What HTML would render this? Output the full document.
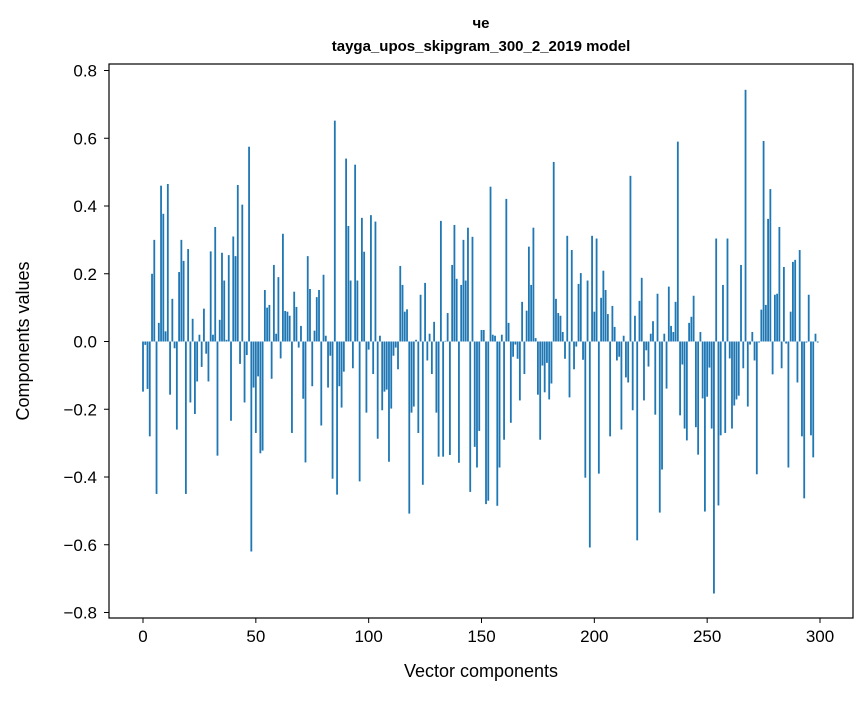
<!DOCTYPE html>
<html><head><meta charset="utf-8"><style>
body{margin:0;background:#fff;}
svg text{font-family:"Liberation Sans","DejaVu Sans",sans-serif;fill:#000;}
</style></head><body>
<svg id="chart" width="867" height="696" xmlns="http://www.w3.org/2000/svg">
<rect width="867" height="696" fill="#fff"/>
<text x="481" y="28" text-anchor="middle" font-size="15" font-weight="bold">че</text>
<text x="481" y="51" text-anchor="middle" font-size="15" font-weight="bold">tayga_upos_skipgram_300_2_2019 model</text>
<g id="bars"></g>
<g id="xticks"></g>
<g id="yticks"></g>
<rect x="109" y="64" width="744" height="554" fill="none" stroke="#000" stroke-width="1.2"/>
<text x="481" y="677" text-anchor="middle" font-size="18">Vector components</text>
<text x="29" y="341" text-anchor="middle" font-size="18" transform="rotate(-90 29 341)">Components values</text>
</svg>
<script>
const values = [
-0.148,-0.01,-0.14,-0.28,0.2,0.30,-0.45,0.055,0.46,0.377,
0.03,0.465,-0.157,0.126,-0.02,-0.26,0.205,0.3,0.238,-0.45,
0.273,-0.18,0.067,-0.214,-0.118,0.02,-0.075,0.097,-0.036,-0.118,
0.266,0.02,0.338,-0.337,0.064,0.262,0.18,0.005,0.255,-0.234,
0.31,0.252,0.462,-0.066,0.404,-0.18,-0.04,0.575,-0.62,-0.136,
-0.27,-0.103,-0.33,-0.322,0.152,0.1,0.108,-0.11,0.226,0.023,
0.19,-0.05,0.318,0.09,0.088,0.076,-0.27,0.147,0.102,-0.018,
0.046,-0.169,-0.357,0.252,0.155,-0.132,0.032,0.131,0.152,-0.248,
0.197,0.017,-0.136,-0.042,-0.405,0.652,-0.452,-0.132,-0.195,-0.089,
0.54,0.341,0.18,-0.079,0.522,0.18,-0.413,0.365,0.265,-0.21,
-0.024,0.373,-0.096,0.354,-0.287,0.017,-0.203,-0.148,-0.142,-0.355,
-0.198,-0.042,-0.018,-0.082,0.223,0.167,0.088,0.095,-0.508,-0.21,
-0.192,0.005,-0.27,0.138,-0.423,0.173,-0.056,0.023,-0.096,0.058,
-0.21,-0.34,0.356,-0.34,0.002,0.084,-0.335,0.226,0.344,0.185,
-0.358,0.167,0.3,0.18,0.336,-0.444,0.309,-0.311,-0.372,-0.264,
0.034,0.034,-0.48,-0.47,0.457,0.02,0.017,-0.485,-0.372,0.02,
-0.29,0.421,0.055,-0.24,-0.045,-0.009,-0.051,-0.174,0.117,-0.096,
0.091,0.28,0.167,0.336,0.01,-0.157,-0.29,-0.071,-0.15,-0.063,
-0.171,-0.124,0.53,0.126,0.084,0.076,0.028,-0.051,0.312,-0.165,
0.27,-0.082,-0.015,0.17,0.202,-0.054,-0.402,0.18,-0.608,0.312,
0.088,0.304,-0.39,0.129,0.209,0.152,0.081,-0.28,0.105,0.043,
-0.056,-0.045,-0.26,0.017,-0.106,-0.121,0.489,-0.203,0.076,-0.587,
0.12,0.188,-0.174,-0.026,-0.074,0.023,0.06,-0.216,0.141,-0.505,
-0.378,0.023,-0.139,0.162,0.046,0.028,0.117,0.59,-0.218,-0.068,
-0.257,-0.292,0.055,0.073,0.135,-0.253,-0.334,0.028,-0.168,-0.502,
-0.163,-0.077,-0.257,-0.744,0.304,-0.484,-0.277,0.167,-0.27,0.304,
-0.05,-0.257,-0.189,-0.171,-0.16,0.226,-0.079,0.743,-0.192,-0.009,
0.028,-0.056,-0.392,-0.003,0.094,0.592,0.108,0.362,0.45,-0.097,
0.138,0.141,0.338,-0.079,0.22,-0.006,-0.372,0.088,0.235,0.241,
-0.121,0.27,-0.28,-0.463,-0.003,0.138,-0.277,-0.342,0.023,-0.003
];
const xTicks = [0,50,100,150,200,250,300];
const yTicks = [-0.8,-0.6,-0.4,-0.2,0.0,0.2,0.4,0.6,0.8];
const yTickLabels = ["−0.8","−0.6","−0.4","−0.2","0.0","0.2","0.4","0.6","0.8"];

const NS="http://www.w3.org/2000/svg";
const xs = v => 143 + v*(677/300);
const ys = v => 341.5 - v*338.75;
const bars=document.getElementById('bars');
values.forEach((v,i)=>{
  const r=document.createElementNS(NS,'rect');
  
  
  const x0=xs(i-0.4), x1=xs(i+0.4);
  const y0=ys(Math.max(v,0)), y1=ys(Math.min(v,0));
  r.setAttribute('x',x0); r.setAttribute('width',x1-x0);
  r.setAttribute('y',y0); r.setAttribute('height',Math.max(y1-y0,0.3));
  r.setAttribute('fill','#1f77b4');
  bars.appendChild(r);
});
const xg=document.getElementById('xticks');
xTicks.forEach(t=>{
  const l=document.createElementNS(NS,'line');
  
  
  l.setAttribute('x1',xs(t));l.setAttribute('x2',xs(t));l.setAttribute('y1',618);l.setAttribute('y2',623);
  l.setAttribute('stroke','#000');
  xg.appendChild(l);
  const tx=document.createElementNS(NS,'text');
  
  
  tx.setAttribute('x',xs(t));tx.setAttribute('y',642);tx.setAttribute('text-anchor','middle');tx.setAttribute('font-size','17');
  tx.textContent=t;
  xg.appendChild(tx);
});
const yg=document.getElementById('yticks');
yTicks.forEach((t,k)=>{
  const l=document.createElementNS(NS,'line');
  
  
  l.setAttribute('x1',104);l.setAttribute('x2',109);l.setAttribute('y1',ys(t));l.setAttribute('y2',ys(t));
  l.setAttribute('stroke','#000');
  yg.appendChild(l);
  const tx=document.createElementNS(NS,'text');
  
  
  tx.setAttribute('x',97);tx.setAttribute('y',ys(t)+6);tx.setAttribute('text-anchor','end');tx.setAttribute('font-size','17');
  tx.textContent=yTickLabels[k];
  yg.appendChild(tx);
});
</script>
</body></html>
